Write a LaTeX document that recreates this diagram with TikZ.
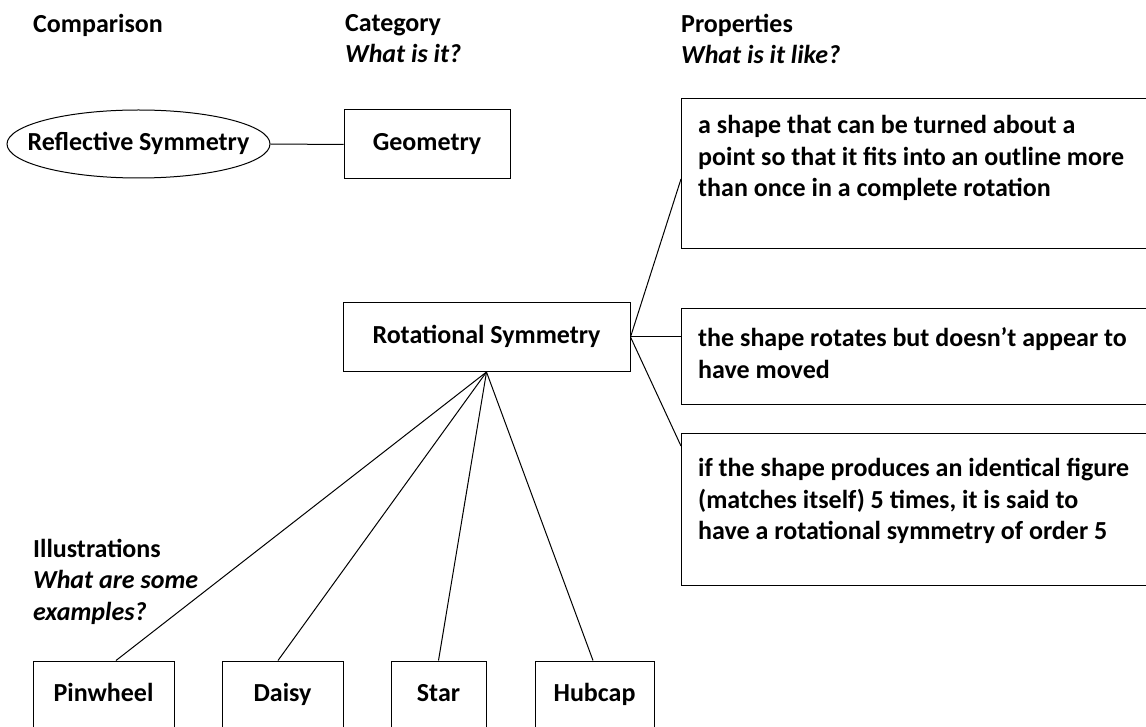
\documentclass[tikz,border=0pt]{standalone}
\usepackage{fontspec}
\setmainfont{Carlito}
\usetikzlibrary{shapes.geometric}
\begin{document}
\begin{tikzpicture}[x=1pt,y=-1pt,
  every node/.style={font=\fontsize{26}{31.5}\selectfont\bfseries, text=black},
  box/.style={draw, line width=1pt, rectangle, inner sep=0pt, text height=19pt, text depth=6pt},
  lbl/.style={inner sep=0pt, align=left},
  conn/.style={line width=1pt}]
\clip (0,0) rectangle (1146,727);
% headers
\node[lbl, anchor=north west] (hcomp) at (33,14) {Comparison};
\node[lbl, anchor=north west] (hcat) at (345,14) {Category\\\textit{What is it?}};
\node[lbl, anchor=north west] (hprop) at (681,14) {Properties\\\textit{What is it like?}};
\node[lbl, anchor=north west] (hill) at (33,539) {Illustrations\\\textit{What are some}\\\textit{examples?}};
% comparison and category
\node[draw, line width=1pt, ellipse, inner sep=0pt, minimum width=263pt, minimum height=68pt] (refl) at (138.5,144) {};
\node[inner sep=0pt, text height=19pt, text depth=6pt] (reflt) at (refl.center) {Reflective Symmetry};
\node[box, minimum width=166pt, minimum height=69pt] (geo) at (427,144.5) {Geometry};
\node[box, minimum width=287pt, minimum height=69pt] (rot) at (486.5,337) {Rotational Symmetry};
% properties
\node[box, anchor=north west, minimum width=470pt, minimum height=150pt] (p1) at (681,98) {};
\node[lbl, anchor=west] (p1t) at (698,158) {a shape that can be turned about a\\point so that it fits into an outline more\\than once in a complete rotation};
\node[box, anchor=north west, minimum width=470pt, minimum height=96pt] (p2) at (681,308) {};
\node[lbl, anchor=west] (p2t) at (698,353) {the shape rotates but doesn’t appear to\\have moved};
\node[box, anchor=north west, minimum width=470pt, minimum height=152pt] (p3) at (681,433) {};
\node[lbl, anchor=west] (p3t) at (698,501) {if the shape produces an identical figure\\(matches itself) 5 times, it is said to\\have a rotational symmetry of order 5};
% illustrations
\node[box, minimum width=141pt, minimum height=68pt] (pin) at (103.5,695) {Pinwheel};
\node[box, minimum width=121pt, minimum height=68pt] (dai) at (282.5,695) {Daisy};
\node[box, minimum width=95pt, minimum height=68pt] (star) at (438.5,695) {Star};
\node[box, minimum width=119pt, minimum height=68pt] (hub) at (594.5,695) {Hubcap};
% connectors
\draw[conn] (refl.east) -- (geo.west);
\draw[conn] (rot.east) -- (p1.west |- 0,179);
\draw[conn] (rot.east) -- (p2.west |- rot.east);
\draw[conn] (rot.east) -- (p3.west |- 0,446);
\draw[conn] (rot.south) -- ([xshift=12.5pt]pin.north);
\draw[conn] (rot.south) -- ([xshift=-4.5pt]dai.north);
\draw[conn] (rot.south) -- (star.north);
\draw[conn] (rot.south) -- ([xshift=-1.5pt]hub.north);
\end{tikzpicture}
\end{document}
